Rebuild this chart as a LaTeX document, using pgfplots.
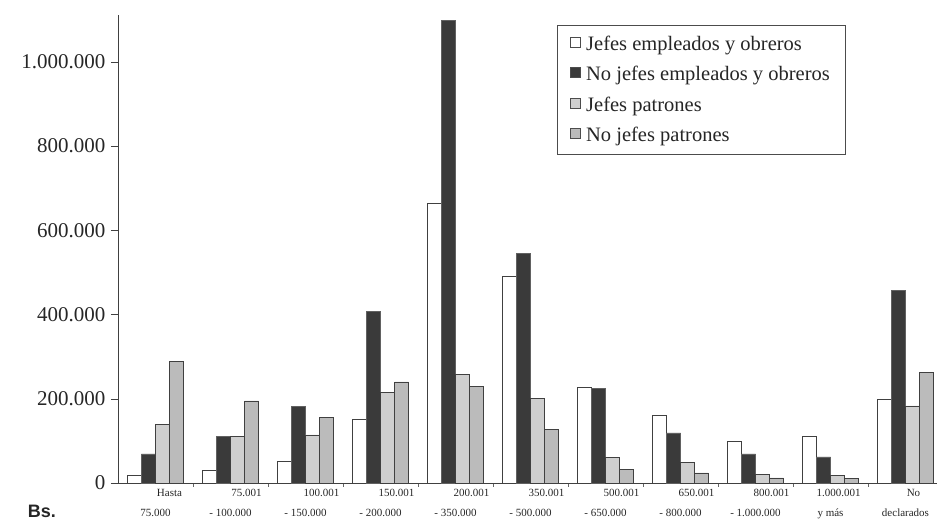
\documentclass[border=0pt]{standalone}
\usepackage{pgfplots}
\pgfplotsset{compat=1.18}
\usepackage{fontspec}
\setmainfont{Liberation Serif}
\setsansfont{Liberation Sans}
\definecolor{darkbar}{HTML}{3A3A3A}
\definecolor{jpfill}{HTML}{CFCFCF}
\definecolor{njpfill}{HTML}{BBBBBB}
\definecolor{edge}{HTML}{404040}
\begin{document}
\begin{tikzpicture}
\begin{axis}[
  scale only axis,
  width=819pt, height=468pt,
  xmin=-0.5, xmax=10.42,
  ymin=0, ymax=1111000,
  axis x line=bottom, axis y line=left,
  axis line style={draw=black!75, line width=0.8pt, -},
  ybar,
  bar width=0.187,
  xtick={0,...,10},
  major x tick style={draw=none},
  minor xtick={0.5,1.5,...,9.5},
  minor x tick style={draw=black!60},
  minor tick length=4pt,
  xticklabels={
    {\hspace*{28pt}Hasta\\75.000},
    {\hspace*{32pt}75.001\\- 100.000},
    {\hspace*{32pt}100.001\\- 150.000},
    {\hspace*{32pt}150.001\\- 200.000},
    {\hspace*{32pt}200.001\\- 350.000},
    {\hspace*{32pt}350.001\\- 500.000},
    {\hspace*{32pt}500.001\\- 650.000},
    {\hspace*{32pt}650.001\\- 800.000},
    {\hspace*{32pt}800.001\\- 1.000.000},
    {\hspace*{16pt}1.000.001\\y más},
    {\hspace*{16pt}No\\declarados}},
  xticklabel style={font=\fontsize{11}{19.5}\selectfont, align=center, text=black!85, yshift=4pt},
  ytick={0,200000,400000,600000,800000,1000000},
  yticklabel style={font=\fontsize{21}{24}\selectfont, text=black!85, xshift=-2pt},
  y tick style={draw=black!75},
  tick align=outside,
  major tick length=7pt,
  scaled y ticks=false,
  /pgf/number format/.cd, fixed, 1000 sep={.}, assume math mode=true,
  /pgfplots/.cd,
  legend style={at={(0.536,0.979)}, anchor=north west, draw=black!70, line width=0.6pt,
    font=\fontsize{20.5}{23}\selectfont, inner xsep=13pt, inner ysep=9pt, row sep=10.5pt,
    text=black!85},
  legend cell align=left,
  legend image code/.code={\draw[#1, draw=black!70, line width=0.5pt] (0pt,-3pt) rectangle (10pt,7pt);},
  clip=false,
]
\addplot[fill=white, draw=edge, line width=0.7pt, bar shift=-0.2805] coordinates {
 (0,19000) (1,29000) (2,52000) (3,152000) (4,664000) (5,490000) (6,228000) (7,160000) (8,98000) (9,110000) (10,198000)};
\addplot[fill=darkbar, draw=darkbar!80, line width=0.7pt, bar shift=-0.0935] coordinates {
 (0,69000) (1,110000) (2,181000) (3,407000) (4,1098000) (5,545000) (6,224000) (7,119000) (8,69000) (9,62000) (10,457000)};
\addplot[fill=jpfill, draw=edge, line width=0.7pt, bar shift=0.0935] coordinates {
 (0,140000) (1,110000) (2,114000) (3,214000) (4,258000) (5,200000) (6,60000) (7,48000) (8,21000) (9,17000) (10,183000)};
\addplot[fill=njpfill, draw=edge, line width=0.7pt, bar shift=0.2805] coordinates {
 (0,288000) (1,195000) (2,155000) (3,240000) (4,230000) (5,128000) (6,33000) (7,24000) (8,12000) (9,10000) (10,262000)};
\legend{\,Jefes empleados y obreros, \,No jefes empleados y obreros, \,Jefes patrones, \,No jefes patrones}
\coordinate (O) at (rel axis cs:0,0);
\end{axis}
\node[font=\sffamily\bfseries\fontsize{18}{20}\selectfont, text=black!85] at ([shift={(-76pt,-28pt)}]O) {Bs.};
\pgfresetboundingbox
\path[use as bounding box] ([shift={(-118pt,-38pt)}]O) rectangle ++(938pt,521pt);
\end{tikzpicture}
\end{document}
